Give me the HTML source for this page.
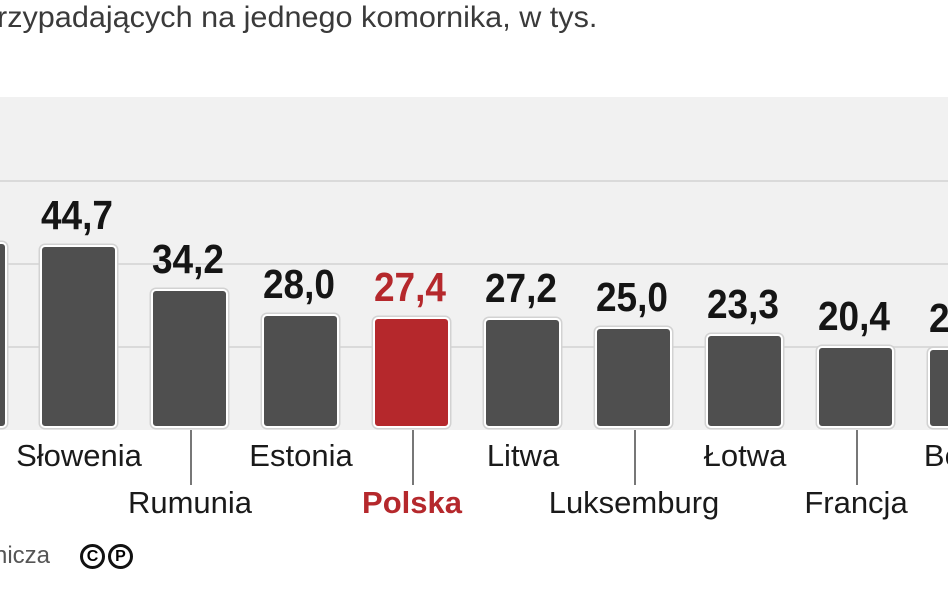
<!DOCTYPE html>
<html><head><meta charset="utf-8"><style>
body{margin:0;width:948px;height:593px;background:#fff;overflow:hidden;position:relative;font-family:"Liberation Sans",sans-serif}
.a{position:absolute}
.title{left:-3px;top:1px;font-size:30px;color:#3a3a3a;white-space:nowrap;transform:scaleX(1.02);transform-origin:left}
.panel{left:0;top:97px;width:948px;height:333px;background:#f1f1f1}
.grid{left:0;width:948px;height:2px;background:#dadada}
.bar{width:73px;background:#4f4f4f;border:2px solid #fff;border-radius:5px;box-shadow:0 0 0 1.5px #d2d2d2}
.val{width:120px;text-align:center;font-weight:bold;font-size:37px;color:#151515;transform:scaleY(1.1)}
.lab{width:200px;text-align:center;font-size:31px;color:#1a1a1a;white-space:nowrap}
.tick{width:2px;background:#777}
</style></head><body>
<div class="a title">rzypadających na jednego komornika, w tys.</div>
<div class="a panel"></div>
<div class="a grid" style="top:180px"></div>
<div class="a grid" style="top:263px"></div>
<div class="a grid" style="top:346px"></div>

<div class="a bar" style="left:-70px;top:242px;height:182px"></div>

<div class="a bar" style="left:40px;top:245px;height:179px"></div>
<div class="a val" style="left:17px;top:195px">44,7</div>
<div class="a lab" style="left:-21px;top:438px">Słowenia</div>

<div class="a bar" style="left:151px;top:289px;height:135px"></div>
<div class="a val" style="left:128px;top:239px">34,2</div>
<div class="a tick" style="left:190px;top:430px;height:55px"></div>
<div class="a lab" style="left:90px;top:485px">Rumunia</div>

<div class="a bar" style="left:262px;top:314px;height:110px"></div>
<div class="a val" style="left:239px;top:264px">28,0</div>
<div class="a lab" style="left:201px;top:438px">Estonia</div>

<div class="a bar" style="left:373px;top:317px;height:107px;background:#b5282c"></div>
<div class="a val" style="left:350px;top:267px;color:#b5282c">27,4</div>
<div class="a tick" style="left:412px;top:430px;height:55px"></div>
<div class="a lab" style="left:312px;top:485px;color:#b5282c;font-weight:bold">Polska</div>

<div class="a bar" style="left:484px;top:318px;height:106px"></div>
<div class="a val" style="left:461px;top:268px">27,2</div>
<div class="a lab" style="left:423px;top:438px">Litwa</div>

<div class="a bar" style="left:595px;top:327px;height:97px"></div>
<div class="a val" style="left:572px;top:277px">25,0</div>
<div class="a tick" style="left:634px;top:430px;height:55px"></div>
<div class="a lab" style="left:534px;top:485px">Luksemburg</div>

<div class="a bar" style="left:706px;top:334px;height:90px"></div>
<div class="a val" style="left:683px;top:284px">23,3</div>
<div class="a lab" style="left:645px;top:438px">Łotwa</div>

<div class="a bar" style="left:817px;top:346px;height:78px"></div>
<div class="a val" style="left:794px;top:296px">20,4</div>
<div class="a tick" style="left:856px;top:430px;height:55px"></div>
<div class="a lab" style="left:756px;top:485px">Francja</div>

<div class="a bar" style="left:928px;top:348px;height:76px"></div>
<div class="a val" style="left:905px;top:298px">20,0</div>
<div class="a lab" style="left:867px;top:438px">Belgia</div>

<div class="a lab" style="left:-184px;top:485px">Węgry</div>

<div class="a" style="left:-6px;top:542px;font-size:24px;color:#555">nicza</div>
<div class="a" style="left:80px;top:544px;width:25px;height:25px;border:3px solid #111;border-radius:50%;box-sizing:border-box;font:bold 16px 'Liberation Sans',sans-serif;text-align:center;line-height:20px">C</div>
<div class="a" style="left:108px;top:544px;width:25px;height:25px;border:3px solid #111;border-radius:50%;box-sizing:border-box;font:bold 16px 'Liberation Sans',sans-serif;text-align:center;line-height:20px">P</div>
</body></html>
